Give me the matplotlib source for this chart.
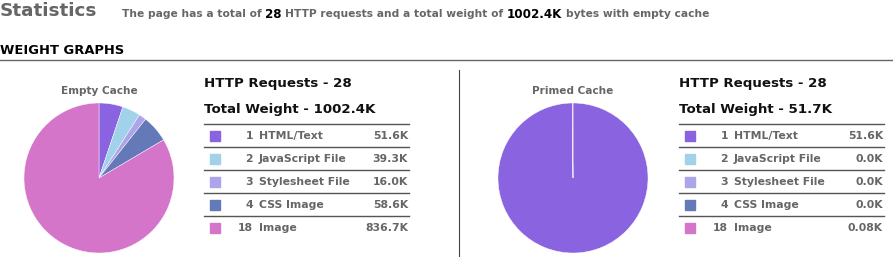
import matplotlib.pyplot as plt

# Data
categories = ['HTML/Text', 'JavaScript File', 'Stylesheet File', 'CSS Image', 'Image']
counts = [1, 2, 3, 4, 18]
empty_kb = [51.6, 39.3, 16.0, 58.6, 836.7]
primed_kb = [51.6, 0.0, 0.0, 0.0, 0.08]
empty_labels = ['51.6K', '39.3K', '16.0K', '58.6K', '836.7K']
primed_labels = ['51.6K', '0.0K', '0.0K', '0.0K', '0.08K']
colors = ['#8a63e0', '#a2d2e9', '#ada5ea', '#6479b7', '#d475c9']

W, H = 893, 257
fig = plt.figure(figsize=(W / 100, H / 100), dpi=100)
GRAY = '#666666'


def px(x, y):
    return x / W, 1 - y / H


def txt(x, y, s, **kw):
    kw.setdefault('va', 'center')
    kw.setdefault('fontweight', 'bold')
    return fig.text(*px(x, y), s, **kw)


# header
txt(0, 11, 'Statistics', fontsize=13.2, color=GRAY)

# subtitle made of pieces, laid out one after another
pieces = [('The page has a total of', 7.7, GRAY), ('28', 8.6, 'black'),
          ('HTTP requests and a total weight of', 7.7, GRAY), ('1002.4K', 8.6, 'black'),
          ('bytes with empty cache', 7.7, GRAY)]
fig.canvas.draw()
r = fig.canvas.get_renderer()
x = 122
for s, fs, c in pieces:
    t = txt(x, 14, s, fontsize=fs, color=c)
    bb = t.get_window_extent(renderer=r)
    x += bb.width + 3.5

txt(0, 50, 'WEIGHT GRAPHS', fontsize=9.4, color='black')
fig.add_artist(plt.Line2D([0, 1], [1 - 59.5 / H] * 2, color='#666666', lw=1))
fig.add_artist(plt.Line2D([459.5 / W] * 2, [1 - 70 / H, 0], color='#444444', lw=0.8))


def draw_pie(cx, title, vals):
    rad = 75
    ax = fig.add_axes([(cx - rad) / W, 1 - (178 + rad) / H, 2 * rad / W, 2 * rad / H])
    ax.pie(vals, colors=colors, startangle=90, counterclock=False,
           wedgeprops=dict(edgecolor='white', linewidth=0.3))
    ax.set_aspect('auto')
    ax.set_xlim(-1, 1)
    ax.set_ylim(-1, 1)
    ax.axis('off')
    txt(cx, 91, title, fontsize=7.6, color=GRAY, ha='center')


def draw_table(x0, x1, total, labels):
    txt(x0, 83, 'HTTP Requests - 28', fontsize=9.6, color='#111111')
    txt(x0, 110, 'Total Weight - ' + total, fontsize=9.6, color='#111111')
    for i in range(5):
        yl = 124 + 23 * i
        fig.add_artist(plt.Line2D([x0 / W, x1 / W], [1 - yl / H] * 2, color='#555555', lw=1))
        yc = yl + 12
        fig.add_artist(plt.Rectangle(px(x0 + 6, yc + 5), 10 / W, 10 / H, color=colors[i]))
        txt(x0 + 49, yc, str(counts[i]), fontsize=7.8, color=GRAY, ha='right')
        txt(x0 + 55, yc, categories[i], fontsize=7.8, color=GRAY)
        txt(x1 - 1, yc, labels[i], fontsize=7.8, color=GRAY, ha='right')


draw_pie(99, 'Empty Cache', empty_kb)
draw_table(204, 409, '1002.4K', empty_labels)
draw_pie(573, 'Primed Cache', primed_kb)
draw_table(679, 884, '51.7K', primed_labels)

fig.savefig('out.png', dpi=100)
